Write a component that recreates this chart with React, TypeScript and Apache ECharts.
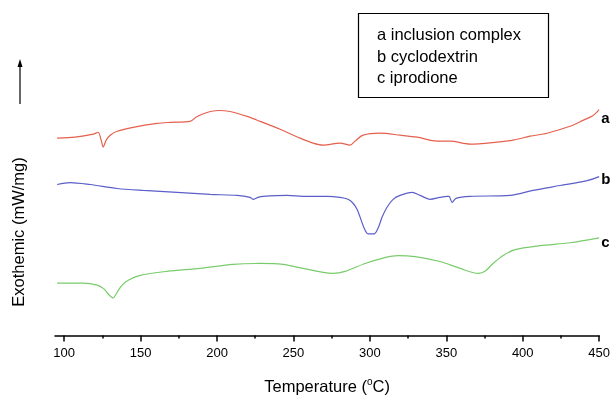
import React, { useEffect, useRef } from "react";
import * as echarts from "echarts";

// Temperature (°C) and heat-flow signal (arbitrary units, vertical offset per curve)
const tempA = [95.4, 107.2, 119.0, 122.2, 124.2, 125.5, 127.5, 130.1, 134.7, 145.1, 160.8, 169.3, 182.4, 187.0, 193.5, 200.7, 208.6, 219.7, 228.2, 241.3, 254.4, 262.9, 269.4, 280.5, 287.1, 290.3, 295.6, 306.7, 319.8, 330.9, 343.9, 352.5, 365.5, 383.2, 393.7, 404.8, 415.9, 430.9, 439.4, 446.0, 450.0];
const valA = [200, 201, 204, 206, 198, 191, 198, 203, 207, 211, 215, 216, 217, 222, 226, 228, 227, 222, 217, 209, 200, 195, 193, 195, 193, 197, 203, 205, 203, 201, 197, 197, 194, 196, 198, 202, 205, 212, 218, 223, 229];

const tempB = [95.4, 103.9, 117.0, 134.7, 151.7, 173.9, 195.5, 213.1, 221.6, 223.6, 226.9, 230.1, 245.8, 256.3, 272.0, 280.5, 285.7, 289.0, 291.6, 293.6, 296.2, 298.8, 302.7, 305.4, 308.0, 311.2, 315.2, 319.8, 327.6, 332.8, 339.4, 345.9, 350.5, 351.8, 353.8, 356.4, 365.5, 391.7, 406.7, 424.4, 442.1, 450.0];
const valB = [153, 155, 153, 149, 147, 145, 143, 142, 140, 138, 140, 141, 142, 141, 141, 140, 138, 134, 128, 120, 109, 103, 103, 109, 120, 130, 138, 142, 145, 142, 138, 140, 141, 141, 135, 139, 141, 142, 147, 152, 157, 161];

const tempC = [95.4, 112.4, 121.6, 126.2, 129.4, 132.0, 134.7, 137.9, 141.9, 149.7, 167.4, 189.0, 210.5, 228.2, 243.2, 256.3, 269.4, 275.9, 283.8, 296.9, 309.9, 318.4, 329.6, 345.9, 359.0, 370.8, 375.3, 380.6, 387.2, 395.0, 411.4, 431.0, 450.0];
const valC = [53, 53, 51, 47, 41, 38, 44, 51, 56, 61, 65, 68, 72, 73, 72, 68, 64, 63, 65, 73, 79, 81, 80, 75, 68, 63, 65, 73, 81, 87, 91, 94, 99];

const majorTicks = [100, 150, 200, 250, 300, 350, 400, 450];
const minorTicks = [125, 175, 225, 275, 325, 375, 425];
const legendLines = ["a inclusion complex", "b cyclodextrin", "c iprodione"];

const FONT = "'Liberation Sans', Arial, sans-serif";

function zip(xs: number[], ys: number[]) {
  return xs.map((x, i) => [x, ys[i]]);
}

export default function App() {
  const ref = useRef<HTMLDivElement>(null);
  useEffect(() => {
    if (!ref.current) return;
    const chart = echarts.init(ref.current, undefined, { renderer: "svg" });
    const mk = (name: string, color: string, data: number[][], offset: number[]) => ({
      type: "line",
      name,
      data,
      showSymbol: false,
      symbol: "none",
      smooth: 0.3,
      lineStyle: { color, width: 1.2 },
      endLabel: {
        show: true,
        formatter: name,
        color: "#000",
        fontWeight: "bold",
        fontSize: 15,
        fontFamily: FONT,
        distance: 2,
        offset,
      },
    });
    chart.setOption({
      animation: false,
      grid: { left: 55, right: 13, top: 0, bottom: 59 },
      xAxis: [
        {
          type: "value",
          min: 94,
          max: 450,
          axisLine: { show: true, lineStyle: { color: "#000", width: 1.5 } },
          axisTick: { show: true, inside: false, length: 6, customValues: majorTicks, lineStyle: { color: "#000", width: 1.5 } },
          axisLabel: { customValues: majorTicks, color: "#000", fontSize: 13, fontFamily: FONT, margin: 10 },
          splitLine: { show: false },
          name: "Temperature ({sup|o}C)",
          nameLocation: "middle",
          nameGap: 41,
          nameTextStyle: {
            color: "#000",
            fontSize: 16.5,
            fontFamily: FONT,
            rich: { sup: { fontSize: 10, verticalAlign: "top", padding: [0, 0, 8, 0], fontFamily: FONT, color: "#000" } },
          },
        },
        {
          type: "value",
          min: 94,
          max: 450,
          position: "bottom",
          axisLine: { show: false },
          axisTick: { show: true, length: 3, customValues: minorTicks, lineStyle: { color: "#000", width: 1.5 } },
          axisLabel: { show: false },
          splitLine: { show: false },
        },
      ],
      yAxis: { type: "value", min: 0, max: 340, show: false },
      series: [
        mk("a", "#e5604e", zip(tempA, valA), [0, 8]),
        mk("b", "#5b5fc7", zip(tempB, valB), [0, 2]),
        mk("c", "#79cc6b", zip(tempC, valC), [0, 4]),
      ],
      graphic: [
        {
          type: "rect",
          shape: { x: 358.5, y: 13.5, width: 190, height: 84 },
          style: { fill: "#fff", stroke: "#000", lineWidth: 1.2 },
        },
        ...legendLines.map((t, i) => ({
          type: "text",
          x: 377,
          y: 34 + i * 21.5,
          style: { text: t, fill: "#000", fontSize: 16.5, fontFamily: FONT, verticalAlign: "middle" },
        })),
        {
          type: "text",
          x: 18,
          y: 232,
          rotation: Math.PI / 2,
          style: { text: "Exothemic (mW/mg)", fill: "#000", fontSize: 16.5, fontFamily: FONT, align: "center", verticalAlign: "middle" },
        },
        {
          type: "line",
          shape: { x1: 20, y1: 104, x2: 20, y2: 66 },
          style: { stroke: "#000", lineWidth: 1.2 },
        },
        {
          type: "polygon",
          shape: { points: [[20, 59], [17.5, 67], [22.5, 67]] },
          style: { fill: "#000" },
        },
      ],
    });
    return () => chart.dispose();
  }, []);
  return <div ref={ref} style={{ position: "fixed", left: 0, top: 0, width: 613, height: 399 }} />;
}
